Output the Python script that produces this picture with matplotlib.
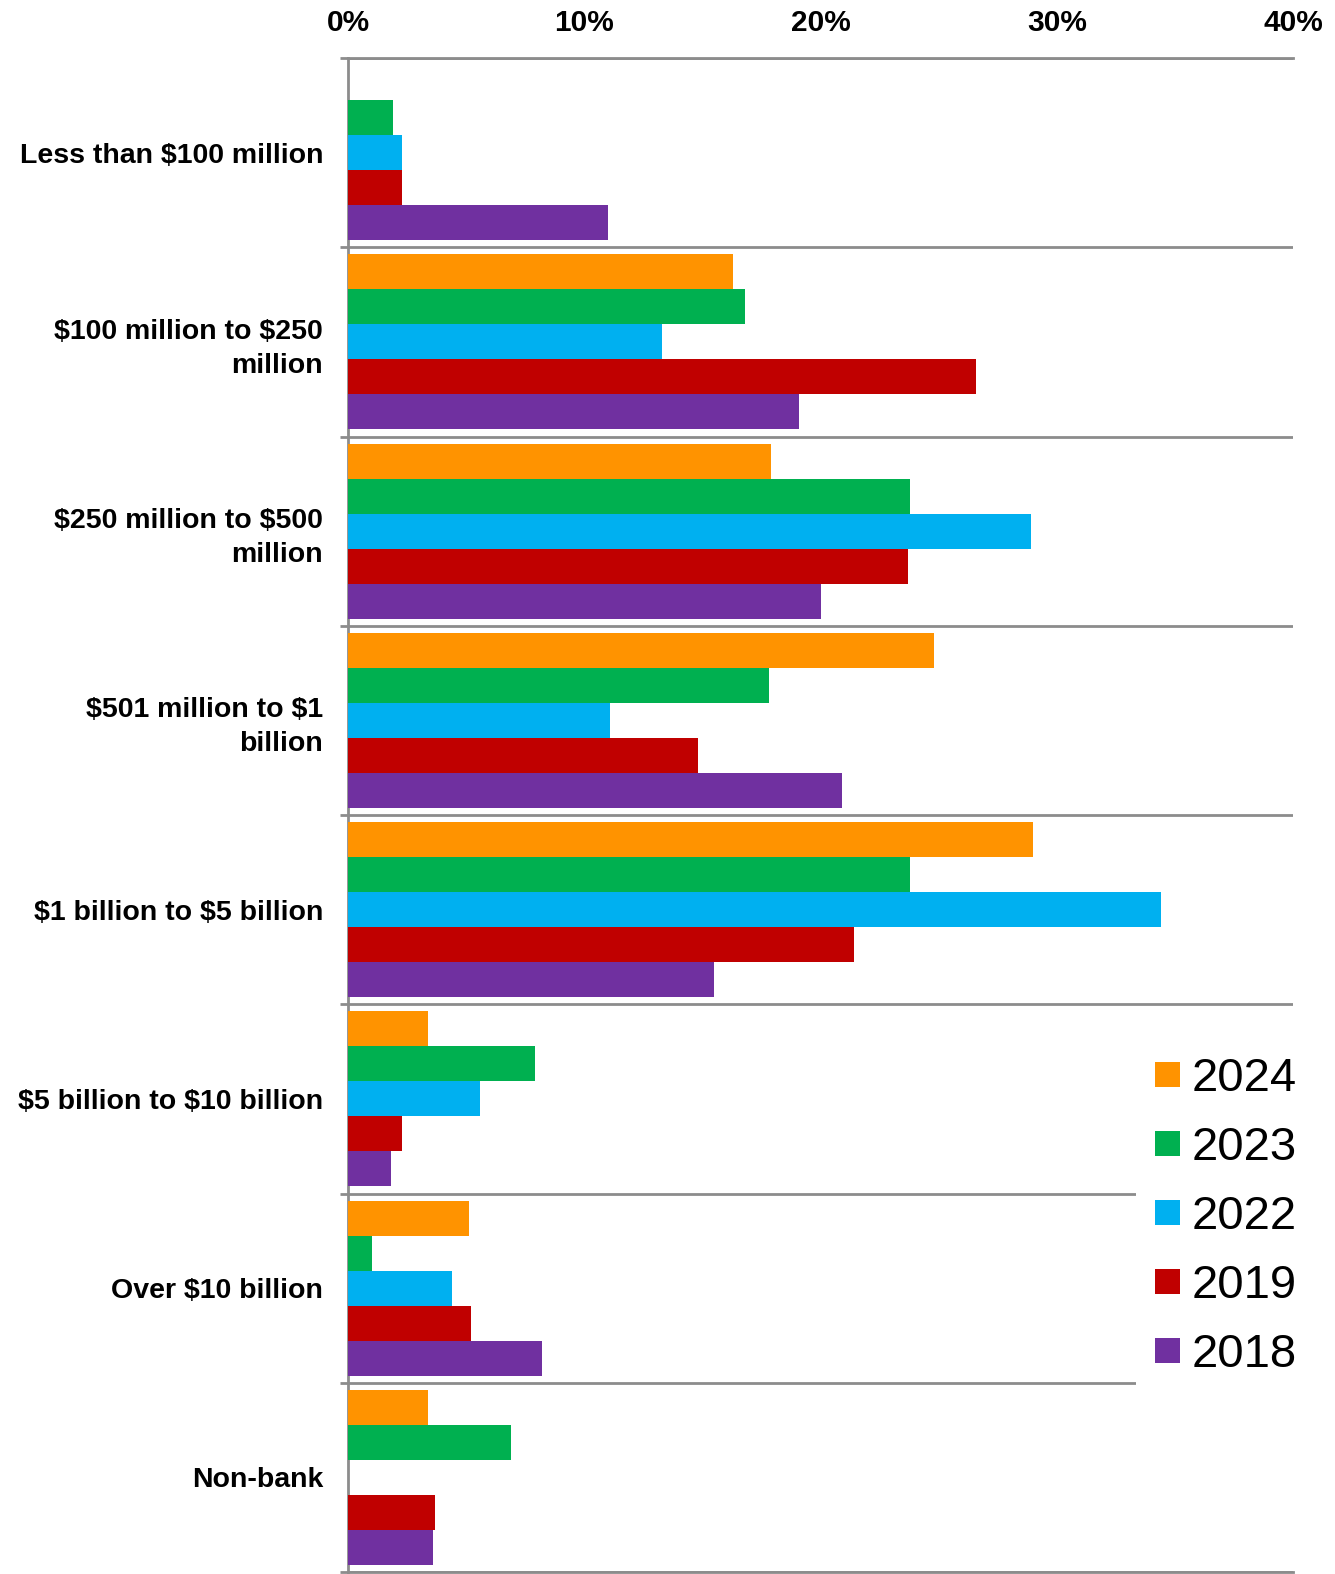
import numpy as np
import matplotlib
matplotlib.use("Agg")
import matplotlib.pyplot as plt
import matplotlib.ticker as ticker

plt.rcParams['font.family'] = ['Liberation Sans', 'DejaVu Sans']

GRID_COLOR = '#8c8c8c'

categories = [
    "Less than \\$100 million",
    "\\$100 million to \\$250\nmillion",
    "\\$250 million to \\$500\nmillion",
    "\\$501 million to \\$1\nbillion",
    "\\$1 billion to \\$5 billion",
    "\\$5 billion to \\$10 billion",
    "Over \\$10 billion",
    "Non-bank",
]

years = ["2024", "2023", "2022", "2019", "2018"]
colors = ["#ff9300", "#00b050", "#00b0f0", "#c00000", "#7030a0"]

# share of respondents (%) per asset-size group
v2024 = [0.0, 16.3, 17.9, 24.8, 29.0, 3.4, 5.1, 3.4]
v2023 = [1.9, 16.8, 23.8, 17.8, 23.8, 7.9, 1.0, 6.9]
v2022 = [2.3, 13.3, 28.9, 11.1, 34.4, 5.6, 4.4, 0.0]
v2019 = [2.3, 26.6, 23.7, 14.8, 21.4, 2.3, 5.2, 3.7]
v2018 = [11.0, 19.1, 20.0, 20.9, 15.5, 1.8, 8.2, 3.6]
series = [v2024, v2023, v2022, v2019, v2018]

xticks = [0, 10, 20, 30, 40]

fig = plt.figure(figsize=(13.35, 15.74), dpi=100)
ax = fig.add_axes([0.2607, 0.00127, 0.7079, 0.96188])

y = np.arange(len(categories))
h = 0.185
for j, (vals, col, yr) in enumerate(zip(series, colors, years)):
    ax.barh(y + (j - 2) * h, vals, height=h, color=col, label=yr, zorder=3)

ax.set_xlim(0, 40)
ax.set_ylim(len(categories) - 0.5, -0.5)

# percentage axis on top
ax.xaxis.tick_top()
ax.set_xticks(xticks)
ax.xaxis.set_major_formatter(ticker.PercentFormatter(decimals=0))
ax.tick_params(axis='x', length=0, pad=15, labelsize=21.5)
for lbl in ax.get_xticklabels():
    lbl.set_fontweight('bold')

# category labels and separators between groups
ax.set_yticks(y)
ax.set_yticklabels(categories, fontsize=20.5, fontweight='bold')
for lbl in ax.get_yticklabels():
    lbl.set_linespacing(1.4)
ax.tick_params(axis='y', which='major', length=0, pad=18)
ax.set_yticks(np.arange(-0.5, len(categories), 1), minor=True)
ax.tick_params(axis='y', which='minor', length=6, width=2, color=GRID_COLOR)
ax.grid(which='minor', axis='y', color=GRID_COLOR, linewidth=2, zorder=1)
ax.grid(which='major', visible=False)

for side in ['top', 'bottom', 'left']:
    ax.spines[side].set_color(GRID_COLOR)
    ax.spines[side].set_linewidth(2)
ax.spines['right'].set_visible(False)

leg = ax.legend(loc='upper left', bbox_to_anchor=(1136 / 1335, 1 - 1038 / 1574),
                bbox_transform=fig.transFigure, borderaxespad=0, borderpad=0.4,
                fontsize=34, handlelength=0.53, handleheight=0.44,
                handletextpad=0.25, labelspacing=0.53, fancybox=False,
                frameon=True, facecolor='white', edgecolor='none', framealpha=1)
leg.set_zorder(10)

plt.savefig("out.png", dpi=100)
